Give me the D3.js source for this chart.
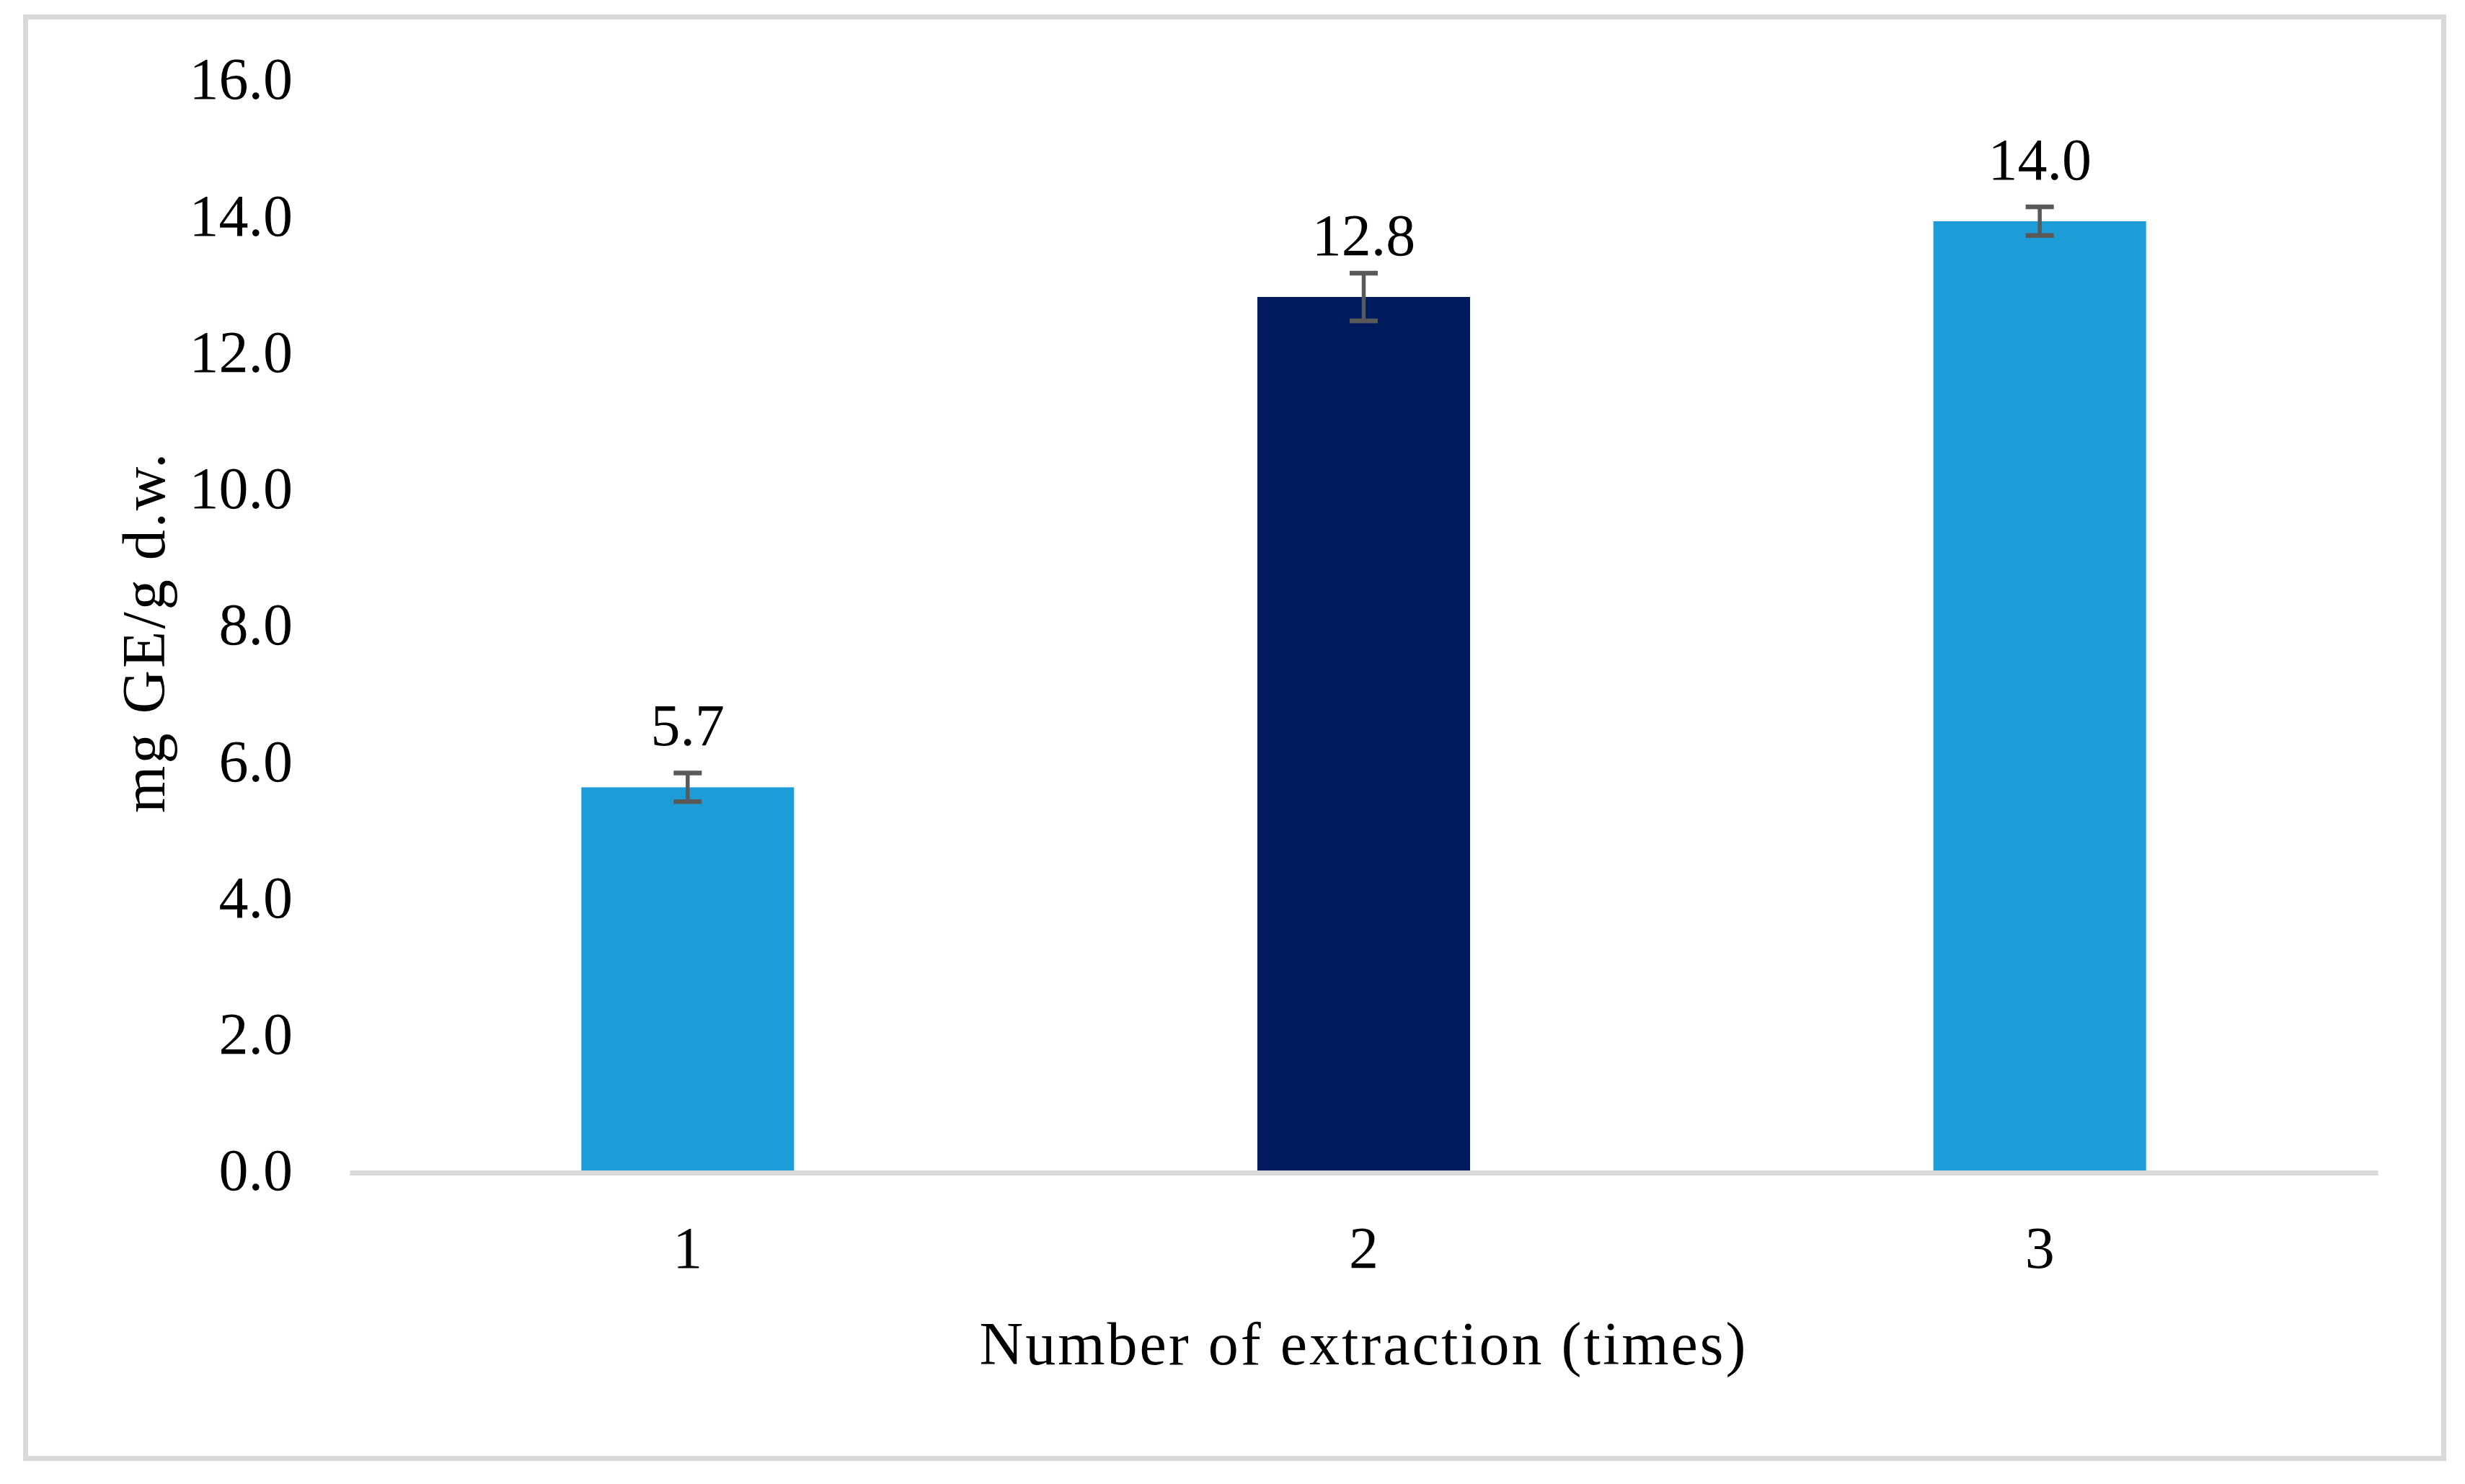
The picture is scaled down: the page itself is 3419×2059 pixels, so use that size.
<!DOCTYPE html>
<html>
<head>
<meta charset="utf-8">
<script src="https://cdn.jsdelivr.net/npm/d3@7"></script>
<style>
  html, body { margin: 0; padding: 0; background: #ffffff; }
  svg { display: block; }
  text { font-family: "Liberation Serif", "Times New Roman", serif; fill: #000; }
</style>
</head>
<body>
<svg id="chart" width="3419" height="2059"></svg>
<script>
// ---- data ----
const categories = ["1", "2", "3"];
const values = [5.65, 12.84, 13.95];
const errors = [0.21, 0.35, 0.21];
const valueLabels = ["5.7", "12.8", "14.0"];
const barColors = ["#1E9CD8", "#001A5E", "#1E9CD8"];
const yTicks = [0, 2, 4, 6, 8, 10, 12, 14, 16];
const xTitle = "Number of extraction (times)";
const yTitle = "mg GE/g d.w.";

// ---- layout ----
const W = 3419, H = 2059;
const svg = d3.select("#chart");
const fontSize = 82;

svg.append("rect").attr("x", 0).attr("y", 0).attr("width", W).attr("height", H).attr("fill", "#fff");
// outer border
svg.append("rect")
  .attr("x", 35.5).attr("y", 23.5)
  .attr("width", 3354).attr("height", 2000)
  .attr("fill", "none").attr("stroke", "#D9D9D9").attr("stroke-width", 7);

const x = d3.scaleBand().domain(categories).range([485, 3298])
  .paddingInner(0.6854).paddingOuter(0.6854 / 2);
const y = d3.scaleLinear().domain([0, 16]).range([1627, 113]);

// y axis (labels only)
const yAxis = svg.append("g").attr("transform", "translate(485,0)")
  .call(d3.axisLeft(y).tickValues(yTicks).tickSize(0).tickPadding(79).tickFormat(d3.format(".1f")));
yAxis.select(".domain").remove();
yAxis.selectAll("text").attr("font-size", fontSize).attr("font-family", "Liberation Serif, serif")
  .attr("fill", "#000").attr("dy", "0.29em");

// bars
svg.append("g").selectAll("rect").data(categories).join("rect")
  .attr("x", d => x(d))
  .attr("width", x.bandwidth())
  .attr("y", (d, i) => y(values[i]))
  .attr("height", (d, i) => y(0) - y(values[i]))
  .attr("fill", (d, i) => barColors[i]);

// x axis
const xAxis = svg.append("g").attr("transform", `translate(0,${y(0)})`)
  .call(d3.axisBottom(x).tickSize(0).tickSizeOuter(0));
xAxis.select(".domain").attr("stroke", "#D9D9D9").attr("stroke-width", 7);
xAxis.selectAll("text").attr("font-size", fontSize).attr("font-family", "Liberation Serif, serif")
  .attr("fill", "#000").attr("y", 103).attr("dy", "0.35em");

// error bars
const eb = svg.append("g").attr("stroke", "#595959");
categories.forEach((c, i) => {
  const cx = x(c) + x.bandwidth() / 2;
  const top = y(values[i] + errors[i]);
  const bot = y(values[i] - errors[i]);
  eb.append("line").attr("x1", cx).attr("x2", cx).attr("y1", top).attr("y2", bot).attr("stroke-width", 5.5);
  eb.append("line").attr("x1", cx - 19.5).attr("x2", cx + 19.5).attr("y1", top).attr("y2", top).attr("stroke-width", 6.5);
  eb.append("line").attr("x1", cx - 19.5).attr("x2", cx + 19.5).attr("y1", bot).attr("y2", bot).attr("stroke-width", 6.5);
});

// value labels
svg.append("g").selectAll("text").data(categories).join("text")
  .attr("x", d => x(d) + x.bandwidth() / 2)
  .attr("y", (d, i) => y(values[i]) - 58)
  .attr("text-anchor", "middle")
  .attr("font-size", fontSize)
  .text((d, i) => valueLabels[i]);

// axis titles
svg.append("text")
  .attr("x", (485 + 3298) / 2 + 0).attr("y", 1893)
  .attr("text-anchor", "middle")
  .attr("font-size", 84)
  .attr("letter-spacing", 3)
  .text(xTitle);

svg.append("text")
  .attr("transform", `translate(228,${(113 + 1627) / 2 + 7}) rotate(-90)`)
  .attr("text-anchor", "middle")
  .attr("font-size", 84)
  .attr("letter-spacing", 3)
  .text(yTitle);
</script>
</body>
</html>
